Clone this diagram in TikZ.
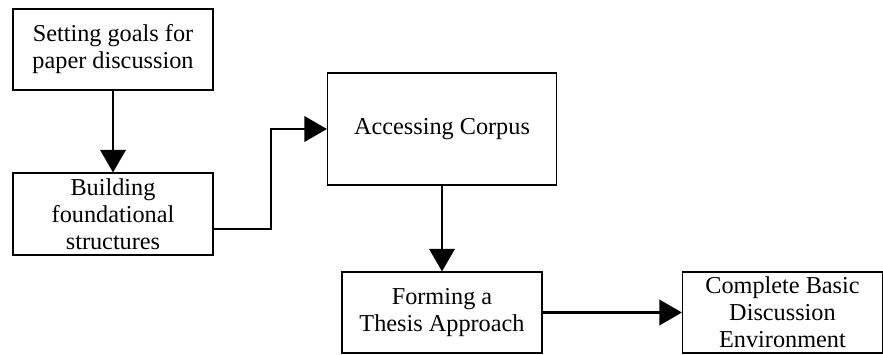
\documentclass[tikz,border=0pt]{standalone}
\usepackage{fontspec}
\setmainfont{Liberation Serif}
\usetikzlibrary{arrows.meta}
\tikzset{
  stagebox/.style={draw,line width=0.8pt,align=center,inner sep=1pt,font=\fontsize{18.2}{20.3}\selectfont},
  flow/.style={line width=2.2pt,-{Triangle[length=17pt,width=19pt]}}
}
\begin{document}
\begin{tikzpicture}[x=0.75pt,y=-0.75pt]
        \useasboundingbox (0,0) rectangle (883,354);
        % left column
        \node[stagebox,minimum width=150pt,minimum height=60.75pt] (goals) at (113,49.5) {Setting goals for\\paper discussion};
        \node[stagebox,minimum width=150pt,minimum height=61.5pt] (found) at (113,214) {Building\\foundational\\structures};
        % middle
        \node[stagebox,minimum width=171.75pt,minimum height=84pt] (corpus) at (442,129) {Accessing Corpus};
        \node[stagebox,minimum width=150pt,minimum height=60.75pt] (thesis) at (442,312.5) {Forming a\\Thesis Approach};
        % right
        \node[stagebox,minimum width=150pt,minimum height=60.75pt] (envir) at (782.5,312.5) {Complete Basic\\Discussion\\Environment};
        % connectors
        \draw[flow] (goals) -- (found);
        \draw[flow] (found.east |- 0,229) -| (271,129) -- (corpus.west);
        \draw[flow] (corpus) -- (thesis);
        \draw[flow] (thesis) -- (envir);
      \end{tikzpicture}
\end{document}
